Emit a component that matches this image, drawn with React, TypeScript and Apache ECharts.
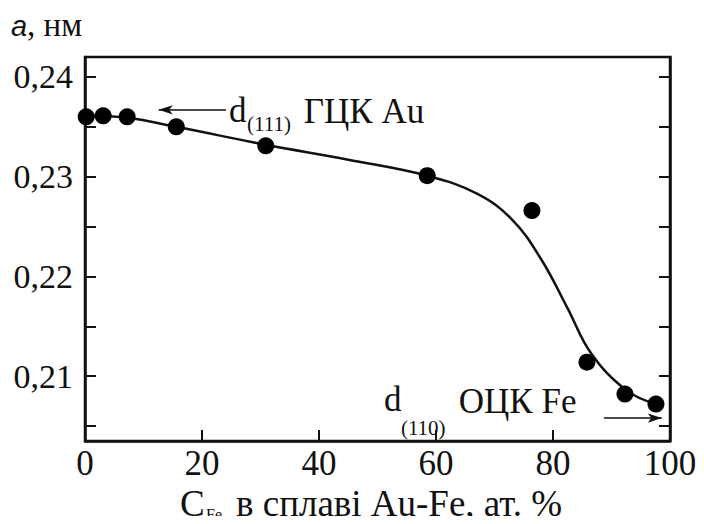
import React, { useEffect, useRef } from "react";
import * as echarts from "echarts";

// ---- data ----
const xTickValues = [0, 20, 40, 60, 80, 100];
const yTickValues = [0.205, 0.21, 0.215, 0.22, 0.225, 0.23, 0.235, 0.24];
const yLabelValues = [0.21, 0.22, 0.23, 0.24];

// measured points (C_Fe, at.% ; a, nm)
const pointX = [0.2, 3.1, 7.2, 15.6, 30.9, 58.5, 76.4, 85.8, 92.3, 97.6];
const pointY = [0.236, 0.2361, 0.236, 0.235, 0.2331, 0.2301, 0.2266, 0.2114, 0.2082, 0.2072];

// fitted curve
const curveX = [0, 7.2, 15.6, 30.9, 45, 58.5, 67, 73, 78, 82.5, 86.5, 92.5, 97.6];
const curveY = [0.2361, 0.2359, 0.235, 0.2332, 0.2317, 0.2301, 0.2283, 0.2257, 0.2217, 0.2168, 0.2123, 0.2086, 0.2072];

// annotations in data coordinates
const annoText = ["d", "(111)", "ГЦК Au", "d", "(110)", "ОЦК Fe"];
const annoKind = ["main", "sub", "main", "main", "sub", "main"];
const annoX = [24.6, 27.7, 37.4, 51.1, 54.0, 63.9];
const annoY = [0.2366, 0.2353, 0.2365, 0.2077, 0.2048, 0.2075];

const arrowFrom = [[24.1, 0.2367], [88.7, 0.2058]];
const arrowTo = [[12.6, 0.2367], [98.6, 0.2058]];

const xMin = 0;
const xMax = 100;
const yMin = 0.2035;
const yMax = 0.242;

const INK = "#111";
const SERIF = "Liberation Serif";
const SANS = "Liberation Sans";

export default function App() {
  const ref = useRef<HTMLDivElement>(null);

  useEffect(() => {
    if (!ref.current) return;
    const chart = echarts.init(ref.current, undefined, { renderer: "svg" });

    const fmt = (v: number) => v.toFixed(2).replace(".", ",");

    const option: any = {
      animation: false,
      backgroundColor: "#fff",
      textStyle: { fontFamily: SERIF },
      grid: {
        left: 85,
        right: 34,
        top: 57,
        bottom: 83,
        show: true,
        borderColor: INK,
        borderWidth: 2.5,
        backgroundColor: "transparent",
      },
      xAxis: {
        type: "value",
        min: xMin,
        max: xMax,
        interval: 20,
        axisLine: { show: true, lineStyle: { color: INK, width: 2.5 } },
        axisTick: { show: true, inside: true, length: 11, lineStyle: { color: INK, width: 2 } },
        axisLabel: {
          color: INK,
          fontFamily: SERIF,
          fontSize: 35,
          margin: 5,
          customValues: xTickValues,
        },
        splitLine: { show: false },
      },
      yAxis: [
        {
          type: "value",
          min: yMin,
          max: yMax,
          axisLine: { show: true, lineStyle: { color: INK, width: 2.5 } },
          axisTick: {
            show: true,
            inside: true,
            length: 11,
            customValues: yTickValues,
            lineStyle: { color: INK, width: 2 },
          },
          axisLabel: {
            color: INK,
            fontFamily: SERIF,
            fontSize: 34,
            margin: 12,
            customValues: yLabelValues,
            formatter: fmt,
          },
          splitLine: { show: false },
        },
        {
          type: "value",
          position: "right",
          min: yMin,
          max: yMax,
          axisLine: { show: true, lineStyle: { color: INK, width: 2.5 } },
          axisTick: {
            show: true,
            inside: true,
            length: 11,
            customValues: yTickValues,
            lineStyle: { color: INK, width: 2 },
          },
          axisLabel: { show: false },
          splitLine: { show: false },
        },
      ],
      series: [
        {
          type: "line",
          data: curveX.map((x, i) => [x, curveY[i]]),
          smooth: 0.4,
          showSymbol: false,
          symbol: "none",
          lineStyle: { color: INK, width: 2.5 },
          silent: true,
          z: 2,
          markLine: {
            silent: true,
            symbol: ["none", "arrow"],
            symbolSize: [7, 14],
            label: { show: false },
            lineStyle: { color: INK, width: 1.5, type: "solid" },
            data: arrowFrom.map((f, i) => [
              { coord: f, symbol: "none" },
              { coord: arrowTo[i], symbol: "arrow" },
            ]),
          },
        },
        {
          type: "scatter",
          data: pointX.map((x, i) => [x, pointY[i]]),
          symbol: "circle",
          symbolSize: 17,
          itemStyle: { color: "#000", opacity: 1 },
          clip: false,
          z: 3,
        },
      ],
    };

    chart.setOption(option);

    const graphics: any[] = annoText.map((t, i) => {
      const p = chart.convertToPixel({ xAxisIndex: 0, yAxisIndex: 0 }, [annoX[i], annoY[i]]) as number[];
      const main = annoKind[i] === "main";
      return {
        type: "text",
        x: p[0],
        y: p[1],
        silent: true,
        style: {
          text: t,
          fill: INK,
          fontFamily: SERIF,
          fontSize: main ? 35 : 21,
          align: "left",
          verticalAlign: "middle",
        },
      };
    });

    // axis titles
    graphics.push(
      {
        type: "text",
        x: 11,
        y: 26,
        style: { text: "a", fill: INK, fontFamily: SANS, fontStyle: "italic", fontSize: 29, align: "left", verticalAlign: "middle" },
      },
      {
        type: "text",
        x: 27,
        y: 25,
        style: { text: ", нм", fill: INK, fontFamily: SERIF, fontSize: 33, align: "left", verticalAlign: "middle" },
      },
      {
        type: "text",
        x: 180,
        y: 503,
        style: { text: "C", fill: INK, fontFamily: SERIF, fontSize: 37, align: "left", verticalAlign: "middle" },
      },
      {
        type: "text",
        x: 206,
        y: 514,
        style: { text: "Fe", fill: INK, fontFamily: SERIF, fontSize: 16, align: "left", verticalAlign: "middle" },
      },
      {
        type: "text",
        x: 236,
        y: 503,
        style: { text: "в сплаві Au-Fe, ат. %", fill: INK, fontFamily: SERIF, fontSize: 37, align: "left", verticalAlign: "middle" },
      }
    );

    chart.setOption({ graphic: graphics });

    return () => chart.dispose();
  }, []);

  return <div ref={ref} style={{ width: 704, height: 524, margin: -8 }} />;
}
